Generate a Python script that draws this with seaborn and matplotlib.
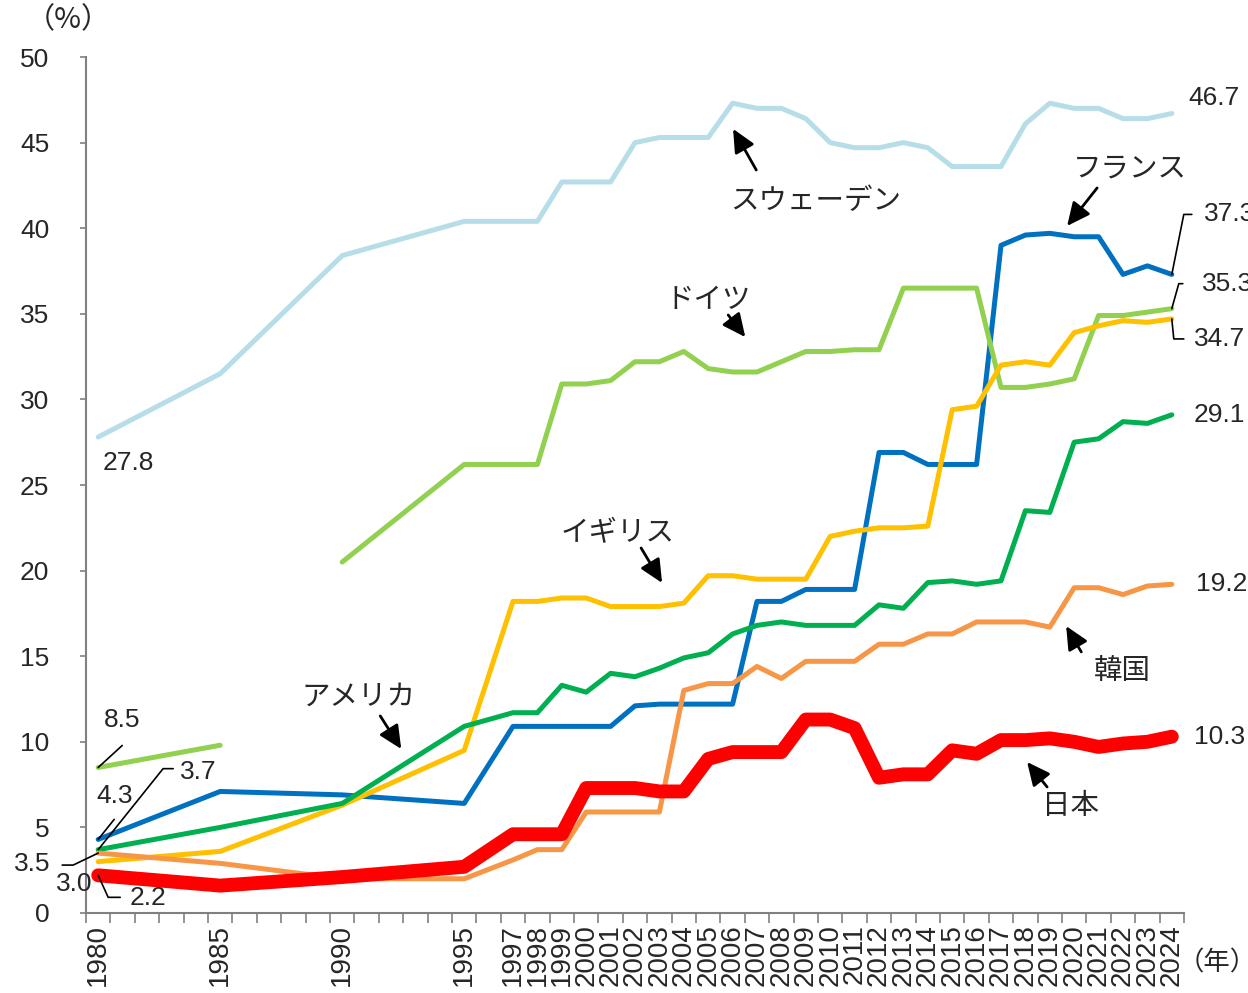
import numpy as np
import seaborn as sns
import matplotlib.pyplot as plt

sns.set_style("white")
plt.rcParams['font.family'] = ['Liberation Sans', 'Noto Sans CJK JP']

years = [1980, 1985, 1990, 1995] + list(range(1997, 2025))
tick_labels = [str(y) for y in years]

sweden = [27.8, 31.5, 38.4, 40.4,
          40.4, 40.4, 42.7, 42.7, 42.7, 45.0, 45.3, 45.3, 45.3, 47.3,
          47.0, 47.0, 46.4, 45.0, 44.7, 44.7, 45.0, 44.7, 43.6, 43.6,
          43.6, 46.1, 47.3, 47.0, 47.0, 46.4, 46.4, 46.7]
france = [4.3, 7.1, 6.9, 6.4,
          10.9, 10.9, 10.9, 10.9, 10.9, 12.1, 12.2, 12.2, 12.2, 12.2,
          18.2, 18.2, 18.9, 18.9, 18.9, 26.9, 26.9, 26.2, 26.2, 26.2,
          39.0, 39.6, 39.7, 39.5, 39.5, 37.3, 37.8, 37.3]
germany = [8.5, 9.8, 20.5, 26.2,
           26.2, 26.2, 30.9, 30.9, 31.1, 32.2, 32.2, 32.8, 31.8, 31.6,
           31.6, 32.2, 32.8, 32.8, 32.9, 32.9, 36.5, 36.5, 36.5, 36.5,
           30.7, 30.7, 30.9, 31.2, 34.9, 34.9, 35.1, 35.3]
uk = [3.0, 3.6, 6.3, 9.5,
      18.2, 18.2, 18.4, 18.4, 17.9, 17.9, 17.9, 18.1, 19.7, 19.7,
      19.5, 19.5, 19.5, 22.0, 22.3, 22.5, 22.5, 22.6, 29.4, 29.6,
      32.0, 32.2, 32.0, 33.9, 34.3, 34.6, 34.5, 34.7]
usa = [3.7, 5.0, 6.4, 10.9,
       11.7, 11.7, 13.3, 12.9, 14.0, 13.8, 14.3, 14.9, 15.2, 16.3,
       16.8, 17.0, 16.8, 16.8, 16.8, 18.0, 17.8, 19.3, 19.4, 19.2,
       19.4, 23.5, 23.4, 27.5, 27.7, 28.7, 28.6, 29.1]
korea = [3.5, 2.9, 2.0, 2.0,
         3.1, 3.7, 3.7, 5.9, 5.9, 5.9, 5.9, 13.0, 13.4, 13.4,
         14.4, 13.7, 14.7, 14.7, 14.7, 15.7, 15.7, 16.3, 16.3, 17.0,
         17.0, 17.0, 16.7, 19.0, 19.0, 18.6, 19.1, 19.2]
japan = [2.2, 1.6, 2.1, 2.7,
         4.6, 4.6, 4.6, 7.3, 7.3, 7.3, 7.1, 7.1, 9.0, 9.4,
         9.4, 9.4, 11.3, 11.3, 10.8, 7.9, 8.1, 8.1, 9.5, 9.3,
         10.1, 10.1, 10.2, 10.0, 9.7, 9.9, 10.0, 10.3]

fig = plt.figure(figsize=(12.48, 9.93), dpi=100)
ax = fig.add_axes([86 / 1248, 80 / 993, 1098 / 1248, 856 / 993])

lw = 3.6
kw = dict(ax=ax, solid_capstyle='round', solid_joinstyle='round')
sns.lineplot(x=years, y=sweden, color='#B7DEE8', lw=lw, **kw)
sns.lineplot(x=years, y=france, color='#0070C0', lw=lw, **kw)
# West Germany until 1985, unified Germany from 1990
sns.lineplot(x=years[:2], y=germany[:2], color='#92D050', lw=lw, **kw)
sns.lineplot(x=years[2:], y=germany[2:], color='#92D050', lw=lw, **kw)
sns.lineplot(x=years, y=uk, color='#FFC000', lw=lw, **kw)
sns.lineplot(x=years, y=usa, color='#00B050', lw=lw, **kw)
sns.lineplot(x=years, y=korea, color='#F79646', lw=lw, **kw)
sns.lineplot(x=years, y=japan, color='#FF0000', lw=10, **kw)

ax.set_xlim(1979.5, 2024.5)
ax.set_ylim(0, 50)
ax.set_xlabel('')
ax.set_ylabel('')
ax.set_yticks(np.arange(0, 51, 5))
ax.set_xticks(years)
ax.set_xticklabels(tick_labels, rotation=90, fontsize=20)
ax.set_xticks(np.arange(1979.5, 2025, 1), minor=True)
ax.tick_params(axis='x', which='major', length=0, pad=8)
ax.tick_params(axis='x', which='minor', length=7, width=1.2,
               color='#808080', direction='out', bottom=True)
ax.tick_params(axis='y', labelsize=19, length=4.5, width=1.2,
               color='#808080', direction='out', left=True, pad=22)
for s in ['top', 'right']:
    ax.spines[s].set_visible(False)
for s in ['left', 'bottom']:
    ax.spines[s].set_color('#808080')
    ax.spines[s].set_linewidth(1.5)

PX = 0.72  # pixels -> points at 100 dpi
fs = 19


def leader(x, y, corner, end, text, tpos, ha):
    cx, cy = corner
    angle_b = np.degrees(np.arctan2(-cy, cx))
    ax.annotate('', xy=(x, y), xytext=(end[0] * PX, -end[1] * PX),
                textcoords='offset points',
                arrowprops=dict(arrowstyle='-', lw=1.2, color='black',
                                shrinkA=0, shrinkB=0,
                                connectionstyle=f'angle,angleA=0,angleB={angle_b:.1f},rad=0'))
    ax.annotate(text, xy=(x, y), xytext=(tpos[0] * PX, -tpos[1] * PX),
                textcoords='offset points', ha=ha, va='center', fontsize=fs)


def straight(x, y, end, text, tpos):
    ax.annotate('', xy=(x, y), xytext=(end[0] * PX, -end[1] * PX),
                textcoords='offset points',
                arrowprops=dict(arrowstyle='-', lw=1.2, color='black',
                                shrinkA=0, shrinkB=0))
    ax.annotate(text, xy=(x, y), xytext=(tpos[0] * PX, -tpos[1] * PX),
                textcoords='offset points', ha='center', va='center', fontsize=fs)


def plain(x, y, text, tpos, ha='left'):
    ax.annotate(text, xy=(x, y), xytext=(tpos[0] * PX, -tpos[1] * PX),
                textcoords='offset points', ha=ha, va='center', fontsize=fs)


# end-of-line values
plain(years[-1], sweden[-1], f'{sweden[-1]:.1f}', (17, -15))
leader(years[-1], france[-1], (12, -60), (20, -60), f'{france[-1]:.1f}', (32, -60), 'left')
leader(years[-1], germany[-1], (7, -25), (11, -25), f'{germany[-1]:.1f}', (30, -25), 'left')
leader(years[-1], uk[-1], (2, 20), (12, 20), f'{uk[-1]:.1f}', (22, 20), 'left')
plain(years[-1], usa[-1], f'{usa[-1]:.1f}', (22, 0))
plain(years[-1], korea[-1], f'{korea[-1]:.1f}', (24, 0))
plain(years[-1], japan[-1], f'{japan[-1]:.1f}', (22, 0))

# start-of-line values
plain(years[0], sweden[0], f'{sweden[0]:.1f}', (30, 26), ha='center')
straight(years[0], germany[0], (24, -22), f'{germany[0]:.1f}', (24, -47))
straight(years[0], france[0], (16, -20), f'{france[0]:.1f}', (16, -43))
leader(years[0], usa[0], (65, -81), (75, -81), f'{usa[0]:.1f}', (82, -78), 'left')
leader(years[0], korea[0], (-25, 12), (-36, 12), f'{korea[0]:.1f}', (-48, 11), 'right')
plain(years[0], uk[0], f'{uk[0]:.1f}', (-24, 22), ha='center')
leader(years[0], japan[0], (10, 22), (22, 22), f'{japan[0]:.1f}', (31, 23), 'left')

# country labels with arrows
arrow_kw = dict(arrowstyle='-|>,head_length=0.7,head_width=0.33', lw=2,
                color='black', mutation_scale=20, shrinkA=0, shrinkB=0)
names = [
    ('スウェーデン', (2009.39, 41.55), (2006.97, 43.4), (2006.02, 45.8)),
    ('フランス', (2022.3, 43.45), (2020.94, 42.35), (2019.71, 40.13)),
    ('ドイツ', (2005.0, 35.75), (2005.82, 34.93), (2006.52, 33.64)),
    ('イギリス', (2001.27, 22.12), (2002.25, 21.32), (2003.11, 19.28)),
    ('アメリカ', (1990.66, 12.6), (1991.56, 11.51), (1992.42, 9.58)),
    ('韓国', (2021.97, 14.06), (2020.29, 15.25), (2019.67, 16.76)),
    ('日本', (2019.84, 6.2), (2018.89, 7.36), (2018.07, 8.82)),
]
for name, tpos, tail, head in names:
    ax.text(tpos[0], tpos[1], name, ha='center', va='center', fontsize=20.5)
    ax.annotate('', xy=head, xytext=tail, arrowprops=arrow_kw)

fig.text(68 / 1248, 1 - 20 / 993, '（%）', ha='center', va='center', fontsize=21,
         family=['Noto Sans CJK JP'])
fig.text(1217 / 1248, 1 - 963 / 993, '（年）', ha='center', va='center', fontsize=19,
         family=['Noto Sans CJK JP'])

plt.savefig('out.png', dpi=100)
